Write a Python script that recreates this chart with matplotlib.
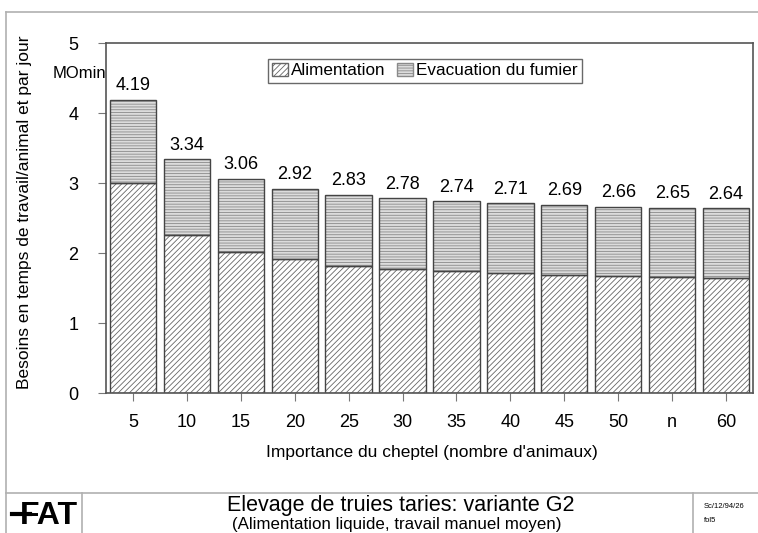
import matplotlib
matplotlib.use('Agg')
import matplotlib.pyplot as plt
from matplotlib.lines import Line2D
from matplotlib.patches import Patch
import numpy as np

plt.rcParams['font.family'] = ['Liberation Sans', 'DejaVu Sans']
plt.rcParams['hatch.linewidth'] = 0.6

# data
categories = ['5', '10', '15', '20', '25', '30', '35', '40', '45', '50', 'n', '60']
totals = [4.19, 3.34, 3.06, 2.92, 2.83, 2.78, 2.74, 2.71, 2.69, 2.66, 2.65, 2.64]
alimentation = [3.00, 2.26, 2.01, 1.91, 1.82, 1.77, 1.74, 1.71, 1.69, 1.67, 1.66, 1.65]
evacuation = [t - a for t, a in zip(totals, alimentation)]

W, H = 758, 533
fig = plt.figure(figsize=(W / 100, H / 100), dpi=100)

def fx(px):
    return px / W

def fy(py):
    return 1 - py / H

ax = fig.add_axes([fx(106), fy(393), fx(753) - fx(106), fy(43) - fy(393)])

x = np.arange(len(categories))
bw = 0.86
edge = '#444444'
# hatched fills
ax.bar(x, alimentation, bw, color='white', edgecolor='#666666', hatch='//////', linewidth=0)
ax.bar(x, evacuation, bw, bottom=alimentation, color='#dcdcdc', edgecolor='#8a8a8a',
       hatch='------', linewidth=0)
# outlines
ax.bar(x, alimentation, bw, fill=False, edgecolor=edge, linewidth=1.0)
ax.bar(x, evacuation, bw, bottom=alimentation, fill=False, edgecolor=edge, linewidth=1.0)

for xi, t in zip(x, totals):
    ax.text(xi, t + 0.08, '%.2f' % t, ha='center', va='bottom', fontsize=13)

ax.set_xlim(-0.5, len(categories) - 0.5)
ax.set_ylim(0, 5)
ax.set_yticks([0, 1, 2, 3, 4, 5])
ax.set_xticks(x)
ax.set_xticklabels(categories)
ax.tick_params(axis='both', labelsize=13, color='#777777', length=6, width=0.8)
ax.tick_params(axis='x', pad=9)
ax.tick_params(axis='y', pad=14)
for s in ax.spines.values():
    s.set_color('#555555')
    s.set_linewidth(1.2)

handles = [Patch(facecolor='white', edgecolor='#666666', hatch='//////', label='Alimentation'),
           Patch(facecolor='#dcdcdc', edgecolor='#8a8a8a', hatch='------', label='Evacuation du fumier')]
leg = ax.legend(handles=handles, loc='upper center', bbox_to_anchor=(0.493, 0.98), ncol=2,
                fontsize=12.3, frameon=True, fancybox=False, edgecolor='#444444',
                handlelength=0.9, handleheight=0.8, handletextpad=0.2, columnspacing=0.7,
                borderpad=0.25)
leg.get_frame().set_linewidth(1.0)

fig.text(fx(79), fy(73), 'MOmin', ha='center', va='center', fontsize=12)
fig.text(fx(25), fy(212), 'Besoins en temps de travail/animal et par jour', rotation=90,
         ha='center', va='center', fontsize=12.5)
fig.text(fx(432), fy(453), "Importance du cheptel (nombre d'animaux)", ha='center',
         va='center', fontsize=12.5)

# page frame and title block
frame = '#b0b0b0'
fig.add_artist(Line2D([fx(6), fx(6)], [fy(12), 0], color=frame, lw=1.2))
fig.add_artist(Line2D([fx(6), 1], [fy(12), fy(12)], color=frame, lw=1.2))
fig.add_artist(Line2D([fx(6), 1], [fy(493), fy(493)], color=frame, lw=1.2))
fig.add_artist(Line2D([fx(82), fx(82)], [fy(493), 0], color=frame, lw=1.2))
fig.add_artist(Line2D([fx(693), fx(693)], [fy(493), 0], color=frame, lw=1.2))

fig.text(fx(49), fy(516), 'FAT', ha='center', va='center', fontsize=23,
         fontweight='heavy', color='black')
fig.add_artist(Line2D([fx(12), fx(30)], [fy(514), fy(514)], color='black', lw=3))

fig.text(fx(401), fy(505), 'Elevage de truies taries: variante G2', ha='center',
         va='center', fontsize=15.5)
fig.text(fx(397), fy(524), '(Alimentation liquide, travail manuel moyen)', ha='center',
         va='center', fontsize=12.2)
fig.text(fx(704), fy(507), 'Sc/12/94/26', ha='left', va='center', fontsize=5.5)
fig.text(fx(704), fy(520), 'fol5', ha='left', va='center', fontsize=5.5)

fig.savefig('out.png', dpi=100)
